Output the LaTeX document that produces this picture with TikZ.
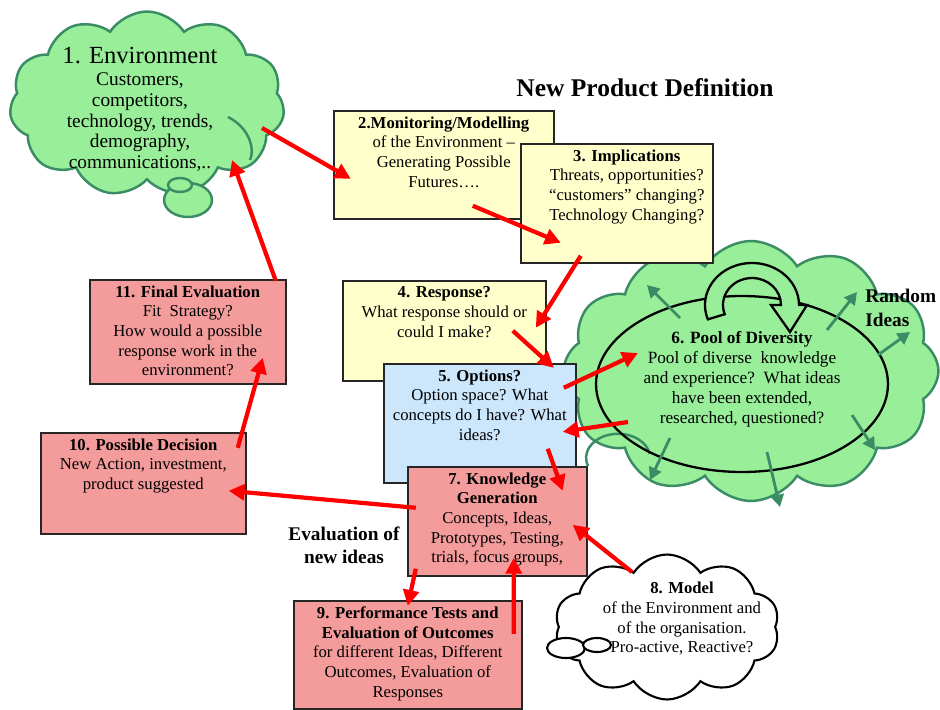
\documentclass[tikz,border=0pt]{standalone}
\usepackage{fontspec}
\setmainfont{Liberation Serif}
\usetikzlibrary{arrows.meta}
\usetikzlibrary{shapes.symbols}
\usetikzlibrary{shapes.geometric}
\usetikzlibrary{positioning}

\definecolor{cloudfill}{RGB}{153,238,153}
\definecolor{cloudline}{RGB}{58,140,100}
\definecolor{boxyellow}{RGB}{255,255,204}
\definecolor{boxblue}{RGB}{204,230,252}
\definecolor{boxred}{RGB}{244,155,155}
\definecolor{arrred}{RGB}{255,0,0}

\tikzset{t/.style={font=\fontsize{9.5}{11.2}\selectfont, align=center, inner sep=0pt}}
\tikzset{big/.style={font=\fontsize{11}{13.3}\selectfont\bfseries, inner sep=0pt}}
\tikzset{box/.style={draw=black!85, line width=0.9pt, anchor=north west}}
\tikzset{puff/.style={cloud, cloud puffs=11, cloud puff arc=115, line width=1.4pt}}
\tikzset{redarr/.style={draw=arrred, line width=2.4pt, -{Triangle[length=9pt,width=9pt]}}}
\tikzset{greenarr/.style={draw=cloudline, line width=1.6pt, -{Triangle[length=7pt,width=7.5pt]}}}

\begin{document}
\begin{tikzpicture}[x=0.02cm, y=-0.02cm]
  \useasboundingbox (0,0) rectangle (940,710);

  % 1. environment cloud with its thought bubbles
  \node[puff, fill=cloudfill, draw=cloudline, minimum width=5.5cm, minimum height=3.7cm] (env) at (147,104) {};
  \draw[cloudline, line width=1.4pt] (228,117) .. controls (250,128) and (255,150) .. (250,160);
  \draw[fill=cloudfill, draw=cloudline, line width=1.4pt] (188,200) ellipse [x radius=24, y radius=17];
  \draw[fill=cloudfill, draw=cloudline, line width=1.4pt] (180,185) ellipse [x radius=12, y radius=7];
  \node[anchor=north, align=center, inner sep=0pt, font=\fontsize{11}{11.7}\selectfont] (envtxt) at (140,47)
    {{\fontsize{14}{16}\selectfont 1. Environment}\\[1pt]
     Customers,\\competitors,\\technology, trends,\\demography,\\communications,..};

  \node[font=\fontsize{14.5}{16}\selectfont\bfseries] (title) at (645,88) {New Product Definition};

  % 6. pool of diversity
  \node[puff, cloud puffs=12, fill=cloudfill, draw=cloudline, minimum width=7.5cm, minimum height=5.2cm] (poolcloud) at (751,371) {};
  \draw[cloudline, line width=1.4pt] (588,466) arc[start angle=160, end angle=350, x radius=32, y radius=24];
  \node[draw, ellipse, line width=1.3pt, minimum width=5.84cm, minimum height=3.52cm] (pool) at (742,384) {};
  \draw[greenarr] ([shift={(-62,-66)}]pool.center) -- ([shift={(-95,-99)}]pool.center);
  \draw[greenarr] ([shift={(85,-54)}]pool.center) -- ([shift={(115,-92)}]pool.center);
  \draw[greenarr] ([shift={(136,-29)}]pool.center) -- ([shift={(168,-52)}]pool.center);
  \draw[greenarr] ([shift={(110,31)}]pool.center) -- ([shift={(133,66)}]pool.center);
  \draw[greenarr] ([shift={(25,68)}]pool.center) -- ([shift={(38,123)}]pool.center);
  \draw[greenarr] ([shift={(-72,54)}]pool.center) -- ([shift={(-92,96)}]pool.center);
  % turning arrow on top of the pool
  \begin{scope}[shift={(752,305)}]
    \draw[fill=cloudfill, line width=1.3pt, line join=miter]
      (160:47 and 42) arc[start angle=160, end angle=360, x radius=47, y radius=42]
      -- (55,0) -- (38,27) -- (19,0) -- (29,0)
      arc[start angle=360, end angle=160, x radius=29, y radius=27] -- cycle;
  \end{scope}
  \node[t, font=\fontsize{9.8}{11.4}\selectfont, anchor=north] (pooltxt) at (742,331)
    {\textbf{6. Pool of Diversity}\\Pool of diverse\ \ knowledge\\and experience?\ \ What ideas\\have been extended,\\researched, questioned?};
  \node[big, align=left, anchor=north west] (random) at (865,289) {Random\\Ideas};

  % 8. model cloud
  \node[puff, cloud puffs=10, fill=white, draw=black, line width=1.2pt, minimum width=4.5cm, minimum height=2.9cm] (model) at (667,627) {};
  \draw[fill=white, line width=1.2pt] (566,648) ellipse [x radius=19, y radius=10];
  \draw[fill=white, line width=1.2pt] (597,645) ellipse [x radius=14, y radius=7];
  \node[t, anchor=north] (modeltxt) at (682,582)
    {\textbf{8. Model}\\of the Environment and\\of the organisation.\\Pro-active, Reactive?};

  % boxes
  \node[box, fill=boxyellow, minimum width=4.4cm, minimum height=2.16cm] (mon) at (333,110) {};
  \node[t, below=3.6pt of mon.north] (montxt)
    {\textbf{2.Monitoring/Modelling}\\of the Environment –\\Generating Possible\\Futures….};
  \node[box, fill=boxyellow, minimum width=3.84cm, minimum height=2.38cm] (impl) at (520,143) {};
  \node[t, below=3.6pt of impl.north, xshift=0.2cm] (impltxt)
    {\textbf{3. Implications}\\Threats, opportunities?\\“customers” changing?\\Technology Changing?};
  \node[box, fill=boxyellow, minimum width=4.06cm, minimum height=2cm] (resp) at (342,280) {};
  \node[t, below=3.6pt of resp.north] (resptxt)
    {\textbf{4. Response?}\\What response should or\\could I make?};
  \node[box, fill=boxblue, minimum width=3.84cm, minimum height=2.38cm] (opt) at (383,363) {};
  \node[t, below=3.6pt of opt.north] (opttxt)
    {\textbf{5. Options?}\\Option space? What\\concepts do I have? What\\ideas?};
  \node[box, fill=boxred, minimum width=3.58cm, minimum height=2.18cm] (know) at (407,466) {};
  \node[t, below=3.6pt of know.north] (knowtxt)
    {\textbf{7. Knowledge}\\\textbf{Generation}\\Concepts, Ideas,\\Prototypes, Testing,\\trials, focus groups,};
  \node[box, fill=boxred, minimum width=4.56cm, minimum height=2.16cm] (perf) at (293,600) {};
  \node[t, below=3.6pt of perf.north] (perftxt)
    {\textbf{9. Performance Tests and}\\\textbf{Evaluation of Outcomes}\\for different Ideas, Different\\Outcomes, Evaluation of\\Responses};
  \node[box, fill=boxred, minimum width=4.1cm, minimum height=2.02cm] (dec) at (40,432) {};
  \node[t, below=3.6pt of dec.north] (dectxt)
    {\textbf{10. Possible Decision}\\New Action, investment,\\product suggested};
  \node[box, fill=boxred, minimum width=3.92cm, minimum height=2.08cm] (fin) at (89,279) {};
  \node[t, below=3.6pt of fin.north] (fintxt)
    {\textbf{11. Final Evaluation}\\Fit\ \ Strategy?\\How would a possible\\response work in the\\environment?};

  \node[big, align=center] (evalnote) at (344,545) {Evaluation of\\new ideas};

  % the flow between the steps
  \draw[redarr] ([shift={(115,24)}]env.center) -- ([shift={(-93,14)}]mon.center);
  \draw[redarr] ([shift={(29,41)}]mon.center) -- ([shift={(-56,39.5)}]impl.center);
  \draw[redarr] ([shift={(-36,52.5)}]impl.center) -- ([shift={(91.5,-3)}]resp.center);
  \draw[redarr] ([shift={(68.5,0)}]resp.center) -- ([shift={(74,-55.5)}]opt.center);
  \draw[redarr] ([shift={(84,-35.5)}]opt.center) -- ([shift={(-104,-31)}]pool.center);
  \draw[redarr] ([shift={(-114,38)}]pool.center) -- ([shift={(83,8.5)}]opt.center);
  \draw[redarr] ([shift={(68,25.5)}]opt.center) -- ([shift={(65.5,-30.5)}]know.center);
  \draw[redarr] ([shift={(-35,-55)}]model.center) -- ([shift={(75.5,3.5)}]know.center);
  \draw[redarr] ([shift={(-81.5,47.5)}]know.center) -- ([shift={(0,-49)}]perf.center);
  \draw[redarr] ([shift={(106,-21)}]perf.center) -- ([shift={(16.5,36.5)}]know.center);
  \draw[redarr] ([shift={(-81.5,-13.5)}]know.center) -- ([shift={(85.5,7.5)}]dec.center);
  \draw[redarr] ([shift={(94.5,-35.5)}]dec.center) -- ([shift={(75,26)}]fin.center);
  \draw[redarr] ([shift={(88,-51)}]fin.center) -- ([shift={(85,56)}]env.center);
\end{tikzpicture}
\end{document}
